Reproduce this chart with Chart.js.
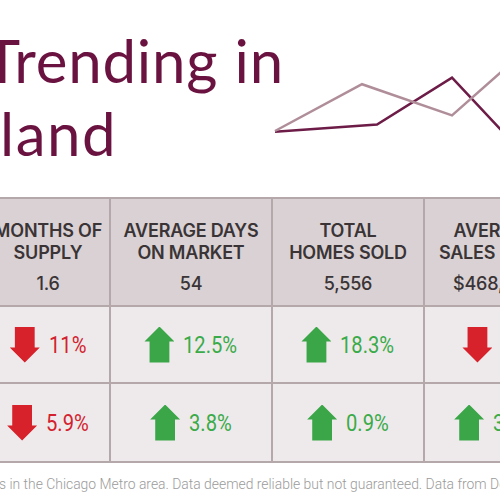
<!DOCTYPE html>
<html>
<head>
<meta charset="utf-8">
<script src="https://cdn.jsdelivr.net/npm/chart.js@4/dist/chart.umd.min.js"></script>
<style>
  html, body { margin: 0; padding: 0; width: 500px; height: 500px; overflow: hidden; background: #fff; position: relative; }
  .title { position: absolute; white-space: nowrap; font-family: Lato, "Noto Sans", sans-serif; font-weight: 400; font-size: 60px; line-height: 60px; color: #6a1240; }
  #spark { position: absolute; left: 260px; top: 40px; width: 300px; height: 130px; }
  .band { position: absolute; left: 0; width: 500px; }
  .hline { position: absolute; left: 0; width: 500px; height: 2px; background: #b5a8ab; }
  .vline { position: absolute; width: 2px; background: #b5a8ab; }
  .head { position: absolute; text-align: center; font-family: Inter, Roboto, sans-serif; font-size: 18px; line-height: 22px; color: #3a3436; white-space: nowrap; letter-spacing: -0.2px; }
  .head .l { font-weight: 600; }
  .head .v { font-weight: 500; margin-top: 9px; }
  .chg { position: absolute; display: flex; align-items: center; justify-content: center; gap: 9px; white-space: nowrap; }
  .arrow { width: 30px; height: 36px; flex: none; }
  .arrow.up { background: #3aa648; clip-path: polygon(50% 0, 100% 42%, 83% 42%, 83% 100%, 17% 100%, 17% 42%, 0 42%); }
  .arrow.down { background: #d7212b; clip-path: polygon(17% 0, 83% 0, 83% 58%, 100% 58%, 50% 100%, 0 58%, 17% 58%); }
  .pctbox { display: inline-block; overflow: visible; }
  .pct { display: inline-block; font-family: Roboto, sans-serif; font-size: 24px; line-height: 27px; position: relative; top: 1px; transform: scaleX(0.84); transform-origin: 0 0; }
  .pct.up { color: #3bab4a; }
  .pct.down { color: #d3222f; }
  .note { position: absolute; top: 476px; white-space: nowrap; font-family: Roboto, sans-serif; font-weight: 300; font-size: 13.9px; color: #9b9b9b; }
</style>
</head>
<body>
<div class="title" style="right: calc(100% - 284px); top: 30px; letter-spacing: 0.8px;">Trending in</div>
<div class="title" style="left: 0; top: 103px; letter-spacing: 1.5px;">land</div>
<div id="spark"><canvas id="sparkChart"></canvas></div>
<div id="table"></div>
<div class="note" id="note"><span id="preNote">Statistics for home</span>s in the Chicago Metro area. Data deemed reliable but not guaranteed. Data from December 2023.</div>
<script>
// decorative trend lines (x = period, y = index)
const trendX1 = [0.5, 3.4, 6.4, 9];
const trendY1 = [30, 66, 42, 95];
const trendX2 = [0.5, 3.9, 6.4, 9];
const trendY2 = [29.5, 35, 71, 7];

// table data
const categories = [["MONTHS OF", "SUPPLY"], ["AVERAGE DAYS", "ON MARKET"], ["TOTAL", "HOMES SOLD"], ["AVERAGE", "SALES PRICE"]];
const values = ["1.6", "54", "5,556", "$468,000"];
const monthChange = [-11, 12.5, 18.3, -2];
const yearChange = [-5.9, 3.8, 0.9, 3.4];

const colLeft = [-14, 110, 272, 424];
const colWidth = [124, 162, 152, 142];

// the footnote is cropped on the left
const note = document.getElementById("note");
note.style.left = -document.getElementById("preNote").getBoundingClientRect().width - 1 + "px";

const table = document.getElementById("table");
let html = "";
html += '<div class="band" style="top:198px;height:108px;background:#d9d1d3"></div>';
html += '<div class="band" style="top:306px;height:156px;background:#eeeaeb"></div>';
[197, 305, 382, 461].forEach((y) => {
  html += `<div class="hline" style="top:${y}px"></div>`;
});
[109, 271, 423].forEach((x) => {
  html += `<div class="vline" style="left:${x}px;top:197px;height:266px"></div>`;
});

function changeCell(v, top, height, i) {
  const dir = v < 0 ? "down" : "up";
  const txt = Math.abs(v) + "%";
  return `<div class="chg" style="left:${colLeft[i]}px;width:${colWidth[i]}px;top:${top}px;height:${height}px">` +
    `<div class="arrow ${dir}"></div><span class="pctbox"><span class="pct ${dir}">${txt}</span></span></div>`;
}

categories.forEach((lines, i) => {
  html += `<div class="head" style="left:${colLeft[i]}px;width:${colWidth[i]}px;top:220px">` +
    lines.map((l) => `<div class="l">${l}</div>`).join("") +
    `<div class="v">${values[i]}</div></div>`;
  html += changeCell(monthChange[i], 307, 75, i);
  html += changeCell(yearChange[i], 384, 77, i);
});
table.innerHTML = html;

// shrink the box of each condensed percentage to its scaled width
document.querySelectorAll(".pctbox").forEach((box) => {
  const w = box.firstChild.getBoundingClientRect().width;
  box.style.width = w + "px";
});

const ctx = document.getElementById("sparkChart").getContext("2d");
new Chart(ctx, {
  type: "line",
  data: {
    datasets: [
      {
        data: trendX1.map((x, i) => ({ x: x, y: trendY1[i] })),
        borderColor: "#b08e99",
        borderWidth: 2.5,
        pointRadius: 0,
        tension: 0,
      },
      {
        data: trendX2.map((x, i) => ({ x: x, y: trendY2[i] })),
        borderColor: "#6d1c47",
        borderWidth: 2.5,
        pointRadius: 0,
        tension: 0,
      },
    ],
  },
  options: {
    responsive: true,
    maintainAspectRatio: false,
    animation: false,
    layout: { padding: 0 },
    plugins: { legend: { display: false }, tooltip: { enabled: false } },
    scales: {
      x: { type: "linear", min: 0, max: 10, display: false },
      y: { min: 0, max: 100, display: false },
    },
  },
});
</script>
</body>
</html>
